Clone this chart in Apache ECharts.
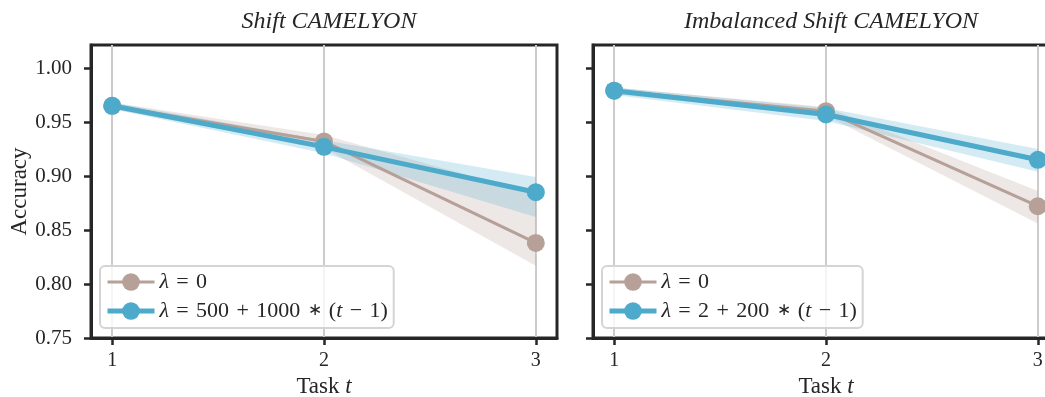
<!DOCTYPE html>
<html>
<head>
<meta charset="utf-8">
<script src="https://cdn.jsdelivr.net/npm/echarts@6/dist/echarts.min.js"></script>
<style>
html,body{margin:0;padding:0;background:#fff;}
#chart{width:1045px;height:397px;}
</style>
</head>
<body>
<div id="chart"></div>
<script>
// ---- data ----
const tasks = [1, 2, 3];
const xTicks = [1, 2, 3];
const yTicks = [0.75, 0.80, 0.85, 0.90, 0.95, 1.00];
const titles = ['Shift CAMELYON', 'Imbalanced Shift CAMELYON'];
const baseName = 'λ = 0';
const regNames = ['λ = 500 + 1000 ∗ (t − 1)', 'λ = 2 + 200 ∗ (t − 1)'];

// Shift CAMELYON
const shiftBase = [0.965, 0.932, 0.838];
const shiftBaseLo = [0.962, 0.926, 0.817];
const shiftBaseHi = [0.968, 0.938, 0.883];
const shiftReg = [0.965, 0.927, 0.885];
const shiftRegLo = [0.962, 0.921, 0.862];
const shiftRegHi = [0.968, 0.933, 0.899];

// Imbalanced Shift CAMELYON
const imbBase = [0.979, 0.960, 0.872];
const imbBaseLo = [0.976, 0.956, 0.856];
const imbBaseHi = [0.982, 0.964, 0.886];
const imbReg = [0.979, 0.957, 0.915];
const imbRegLo = [0.975, 0.951, 0.904];
const imbRegHi = [0.982, 0.963, 0.925];

// ---- styling ----
const FONT = 'Liberation Serif';
const INK = '#262626';
const BROWN = '#b6a098';
const BLUE = '#4eaacb';
const BROWN_BAND = 'rgba(182,160,152,0.25)';
const BLUE_BAND = 'rgba(78,170,203,0.24)';
const Y_MIN = 0.75, Y_MAX = 1.0213, X_MIN = 0.9, X_MAX = 3.1;
const gridLefts = [91, 593];

const chart = echarts.init(document.getElementById('chart'), null, {renderer: 'canvas'});

function band(xs, lo, hi, color, idx) {
  return {
    type: 'custom', xAxisIndex: idx, yAxisIndex: idx, silent: true, z: 1,
    data: xs.map((x, i) => [x, lo[i], hi[i]]),
    encode: {x: 0, y: [1, 2]},
    renderItem: (params, api) => {
      if (params.dataIndex !== 0) return;
      const pts = [];
      for (let i = 0; i < xs.length; i++) pts.push(api.coord([xs[i], hi[i]]));
      for (let i = xs.length - 1; i >= 0; i--) pts.push(api.coord([xs[i], lo[i]]));
      return {type: 'polygon', shape: {points: pts}, style: {fill: color}};
    }
  };
}
function line(name, xs, ys, color, width, idx, z) {
  return {
    type: 'line', name, xAxisIndex: idx, yAxisIndex: idx, z,
    data: xs.map((x, i) => [x, ys[i]]),
    symbol: 'circle', symbolSize: 18, showSymbol: true,
    lineStyle: {color, width}, itemStyle: {color},
    emphasis: {disabled: true}, animation: false
  };
}
function richName(n) {
  return n.replace('λ', '{i|λ}').replace('(t', '({i|t}').replace('∗', '{s|∗}').replace(/ /g, '\u2004');
}

const grids = gridLefts.map(l => ({
  left: l, top: 45, width: 466, height: 293, show: true,
  outerBoundsMode: 'none', containLabel: false,
  borderColor: INK, borderWidth: 3, backgroundColor: 'transparent'
}));

const xAxes = [0, 1].map(i => ({
  type: 'value', gridIndex: i, min: X_MIN, max: X_MAX,
  name: '{r|Task }{i|t}', nameLocation: 'middle', nameGap: 37,
  nameTextStyle: {
    rich: {
      r: {fontFamily: FONT, fontSize: 23, color: INK},
      i: {fontFamily: FONT, fontSize: 23, color: INK, fontStyle: 'italic'}
    }
  },
  axisLine: {show: true, onZero: false, lineStyle: {color: INK, width: 3}},
  axisTick: {show: true, length: 7, customValues: xTicks, lineStyle: {color: INK, width: 2.5}},
  axisLabel: {customValues: xTicks, margin: 13, fontFamily: FONT, fontSize: 20, color: INK,
    formatter: v => String(v)},
  splitLine: {show: true, lineStyle: {color: '#cccccc', width: 2}}
}));

const yAxes = [0, 1].map(i => ({
  type: 'value', gridIndex: i, min: Y_MIN, max: Y_MAX,
  name: i === 0 ? 'Accuracy' : '', nameLocation: 'middle', nameGap: 60, nameRotate: 90,
  nameTextStyle: {fontFamily: FONT, fontSize: 23, color: INK},
  axisLine: {show: true, onZero: false, lineStyle: {color: INK, width: 3}},
  axisTick: {show: true, length: 7, customValues: yTicks, lineStyle: {color: INK, width: 2.5}},
  axisLabel: {show: i === 0, customValues: yTicks, margin: 19, fontFamily: FONT, fontSize: 21, color: INK,
    formatter: v => v.toFixed(2)},
  splitLine: {show: false}
}));

const legends = [0, 1].map(i => ({
  left: gridLefts[i] + 9, top: 266,
  orient: 'vertical',
  data: [
    {name: baseName, lineStyle: {width: 3}},
    {name: regNames[i], lineStyle: {width: 5}}
  ],
  itemWidth: 47, itemHeight: 22, itemGap: 7, itemTextGap: 21,
  padding: [5, 6, 6, 5],
  backgroundColor: 'rgba(255,255,255,0.8)',
  borderColor: '#d4d4d4', borderWidth: 2, borderRadius: 5,
  selectedMode: false,
  formatter: richName,
  textStyle: {
    fontFamily: FONT, fontSize: 22, color: INK,
    rich: {
      i: {fontFamily: FONT, fontSize: 22, color: INK, fontStyle: 'italic'},
      s: {fontFamily: FONT, fontSize: 17, color: INK}
    }
  }
}));

const titleComps = [0, 1].map(i => ({
  text: titles[i], left: gridLefts[i] + 233, top: 5, textAlign: 'center',
  textStyle: {fontFamily: FONT, fontSize: 24, fontStyle: 'italic', fontWeight: 'normal', color: INK}
}));

const series = [
  band(tasks, shiftBaseLo, shiftBaseHi, BROWN_BAND, 0),
  line(baseName, tasks, shiftBase, BROWN, 3, 0, 2),
  band(tasks, shiftRegLo, shiftRegHi, BLUE_BAND, 0),
  line(regNames[0], tasks, shiftReg, BLUE, 5, 0, 3),
  band(tasks, imbBaseLo, imbBaseHi, BROWN_BAND, 1),
  line(baseName, tasks, imbBase, BROWN, 3, 1, 2),
  band(tasks, imbRegLo, imbRegHi, BLUE_BAND, 1),
  line(regNames[1], tasks, imbReg, BLUE, 5, 1, 3)
];

chart.setOption({
  animation: false,
  title: titleComps,
  grid: grids,
  xAxis: xAxes,
  yAxis: yAxes,
  legend: legends,
  series
});
</script>
</body>
</html>
